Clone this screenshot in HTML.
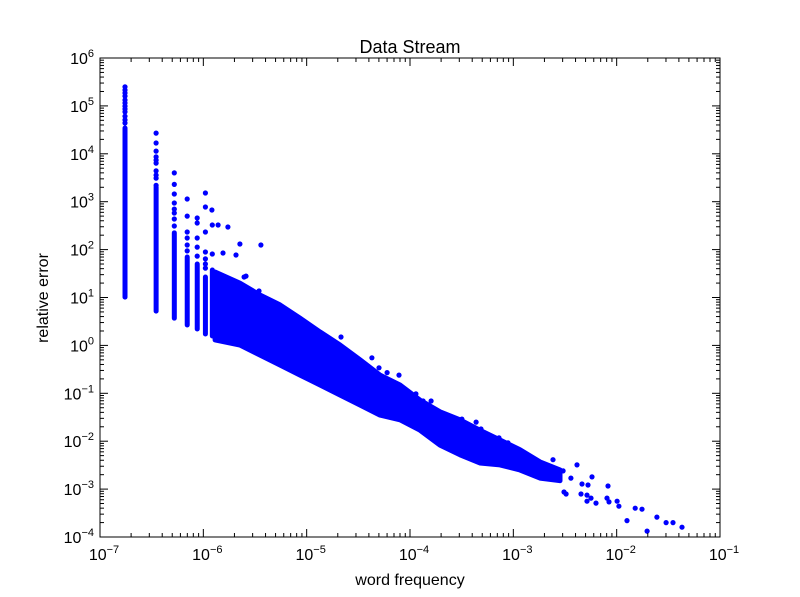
<!DOCTYPE html>
<html><head><meta charset="utf-8"><style>
html,body{margin:0;padding:0;background:#fff;}
svg{display:block;font-family:"Liberation Sans","DejaVu Sans",sans-serif;}
</style></head><body>
<svg id="chart" width="800" height="597" viewBox="0 0 800 597">
<rect width="800" height="597" fill="#fff"/>
<text x="410" y="53" font-size="18" text-anchor="middle">Data Stream</text>
<text x="410" y="585" font-size="16" text-anchor="middle">word frequency</text>
<text x="0" y="0" font-size="16" text-anchor="middle" transform="translate(48,298) rotate(-90)">relative error</text>
<g id="marks"></g>
<g id="axes"></g>
</svg>
<script>
// ---- data ----
const baseFreq = 1.746e-7;
const colIndex = [1, 2, 3, 4, 5, 6, 7];
const colLow = [10.2, 5.2, 3.7, 2.67, 2.2, 1.73, 1.57];
const colHigh = [34600, 2030, 224, 70, 50, 26.8, 37.5];
const cloudFreq = [1.30e-6, 2.26e-6, 3.53e-6, 5.52e-6, 8.63e-6, 1.35e-5, 2.10e-5, 3.28e-5, 5.13e-5, 8.0e-5, 1.25e-4, 1.95e-4, 3.05e-4, 4.75e-4, 7.43e-4, 1.16e-3, 1.81e-3, 2.83e-3];
const cloudUpper = [34, 20, 11.3, 7.0, 3.7, 1.9, 1.02, 0.50, 0.24, 0.149, 0.072, 0.041, 0.028, 0.017, 0.0106, 0.0066, 0.0037, 0.0025];
const cloudLower = [1.30, 1.02, 0.63, 0.39, 0.24, 0.149, 0.092, 0.057, 0.035, 0.028, 0.017, 0.0083, 0.0052, 0.0035, 0.0032, 0.0025, 0.0017, 0.0015];
const outFreq = [
 1.746e-7,1.746e-7,1.746e-7,1.746e-7,1.746e-7,1.746e-7,1.746e-7,1.746e-7,1.746e-7,1.746e-7,1.746e-7,1.746e-7,
 3.49e-7,3.49e-7,3.49e-7,3.49e-7,3.49e-7,3.49e-7,3.49e-7,3.49e-7,3.49e-7,3.49e-7,
 5.24e-7,5.24e-7,5.24e-7,5.24e-7,5.24e-7,5.24e-7,5.24e-7,5.24e-7,
 6.98e-7,6.98e-7,6.98e-7,6.98e-7,6.98e-7,6.98e-7,
 8.73e-7,8.73e-7,8.73e-7,8.73e-7,8.73e-7,
 1.048e-6,1.048e-6,1.048e-6,1.048e-6,1.048e-6,1.048e-6,1.048e-6,
 1.222e-6,1.222e-6,1.21e-6,
 1.39e-6,1.73e-6,2.26e-6,3.61e-6,1.55e-6,2.07e-6,2.48e-6,2.59e-6,3.46e-6,4.33e-6,6.46e-6,7.05e-6,1.01e-5,1.41e-5,2.15e-5,2.51e-5,4.28e-5,5.01e-5,6.0e-5,7.83e-5,
 1.14e-4,1.34e-4,1.60e-4,3.18e-4,4.36e-4,3.18e-4,4.86e-4,7.26e-4,8.87e-4,2.42e-3,4.13e-3,3.03e-3,3.61e-3,4.62e-3,5.28e-3,5.77e-3,3.09e-3,3.24e-3,4.52e-3,5.16e-3,5.16e-3,5.65e-3,6.31e-3,8.24e-3,8.07e-3,8.43e-3,1.01e-2,1.05e-2,1.26e-2,1.51e-2,1.76e-2,1.97e-2,2.45e-2,3.01e-2,3.51e-2,4.29e-2];
const outErr = [
 2.5e5,2.15e5,1.86e5,1.6e5,1.33e5,1.15e5,9.9e4,8.6e4,7.5e4,6.1e4,5.1e4,4.4e4,
 2.7e4,1.68e4,1.14e4,8600,7400,6400,4400,3600,3100,2200,
 4000,2300,1450,940,700,580,435,311,
 1140,500,233,175,125,94,
 457,359,175,113,73,
 1520,775,233,89,64,50,41,
 327,81,671,
 327,296,131,125,85,77,26.8,28,13.7,8.9,4.7,4.3,2.2,1.65,1.5,0.69,0.55,0.34,0.27,0.24,
 0.097,0.069,0.069,0.029,0.025,0.0065,0.018,0.0117,0.0092,0.0041,0.0032,0.0024,0.0017,0.00128,0.00122,0.0018,0.00087,0.00079,0.00079,0.00075,0.00056,0.00065,0.00051,0.00116,0.00065,0.00054,0.00056,0.00044,0.00022,0.0004,0.00038,0.000133,0.00026,0.0002,0.0002,0.00016];
const xTickExp = [-7, -6, -5, -4, -3, -2, -1];
const yTickExp = [-4, -3, -2, -1, 0, 1, 2, 3, 4, 5, 6];

// ---- axes ----
const L = 100, R = 720, T = 58, B = 537;
const xMin = -7, xMax = -1, yMin = -4, yMax = 6;
function X(v) { return L + (Math.log10(v) - xMin) / (xMax - xMin) * (R - L); }
function Y(v) { return B - (Math.log10(v) - yMin) / (yMax - yMin) * (B - T); }
const NS = "http://www.w3.org/2000/svg";
function mk(tag, attrs, parent) {
  const e = document.createElementNS(NS, tag);
  for (const k in attrs) e.setAttribute(k, attrs[k]);
  parent.appendChild(e);
  return e;
}
const marks = document.getElementById('marks');
const axes = document.getElementById('axes');
const BLUE = '#0000ff';

// cloud band
let pts = [];
for (let i = 0; i < cloudFreq.length; i++) pts.push(X(cloudFreq[i]).toFixed(1) + ',' + Y(cloudUpper[i]).toFixed(1));
for (let i = cloudFreq.length - 1; i >= 0; i--) pts.push(X(cloudFreq[i]).toFixed(1) + ',' + Y(cloudLower[i]).toFixed(1));
const band = mk('polygon', {points: pts.join(' '), fill: BLUE, stroke: BLUE, 'stroke-width': 5, 'stroke-linejoin': 'round'}, marks);



// discrete columns
for (let i = 0; i < colIndex.length; i++) {
  const x = X(baseFreq * colIndex[i]);
  const ln = mk('line', {x1: x, x2: x, y1: Y(colHigh[i]), y2: Y(colLow[i]), stroke: BLUE, 'stroke-width': 5, 'stroke-linecap': 'round'}, marks);
  
  
}
// individual points
for (let i = 0; i < outFreq.length; i++) {
  const c = mk('circle', {cx: X(outFreq[i]).toFixed(1), cy: Y(outErr[i]).toFixed(1), r: 2.6, fill: BLUE}, marks);
  
  
}

// frame
const frame = mk('rect', {x: L, y: T, width: R - L, height: B - T, fill: 'none', stroke: '#000', 'stroke-width': 1}, axes);



function tickLabel(x, y, exp, anchor, name) {
  const t = mk('text', {x: x, y: y, 'font-size': 16, 'text-anchor': anchor, fill: '#000'}, axes);
  
  
  const a = mk('tspan', {}, t); a.textContent = '10';
  const b = mk('tspan', {dy: -7, 'font-size': 11}, t); b.textContent = String(exp).replace('-', '\u2212');
}
// x ticks
for (let i = 0; i < xTickExp.length; i++) {
  const e = xTickExp[i];
  const x = X(Math.pow(10, e));
  mk('line', {x1: x, x2: x, y1: B, y2: B - 8, stroke: '#000'}, axes);
  mk('line', {x1: x, x2: x, y1: T, y2: T + 8, stroke: '#000'}, axes);
  tickLabel(x + 4, B + 23, e, 'middle', 'x-tick-label');
  if (e < xMax) for (let m = 2; m <= 9; m++) {
    const xm = X(m * Math.pow(10, e));
    mk('line', {x1: xm, x2: xm, y1: B, y2: B - 4, stroke: '#000'}, axes);
    mk('line', {x1: xm, x2: xm, y1: T, y2: T + 4, stroke: '#000'}, axes);
  }
}
// y ticks
for (let i = 0; i < yTickExp.length; i++) {
  const e = yTickExp[i];
  const y = Y(Math.pow(10, e));
  mk('line', {x1: L, x2: L + 8, y1: y, y2: y, stroke: '#000'}, axes);
  mk('line', {x1: R, x2: R - 8, y1: y, y2: y, stroke: '#000'}, axes);
  tickLabel(94, y + 6, e, 'end', 'y-tick-label');
  if (e < yMax) for (let m = 2; m <= 9; m++) {
    const ym = Y(m * Math.pow(10, e));
    mk('line', {x1: L, x2: L + 4, y1: ym, y2: ym, stroke: '#000'}, axes);
    mk('line', {x1: R, x2: R - 4, y1: ym, y2: ym, stroke: '#000'}, axes);
  }
}
</script>
</body></html>
